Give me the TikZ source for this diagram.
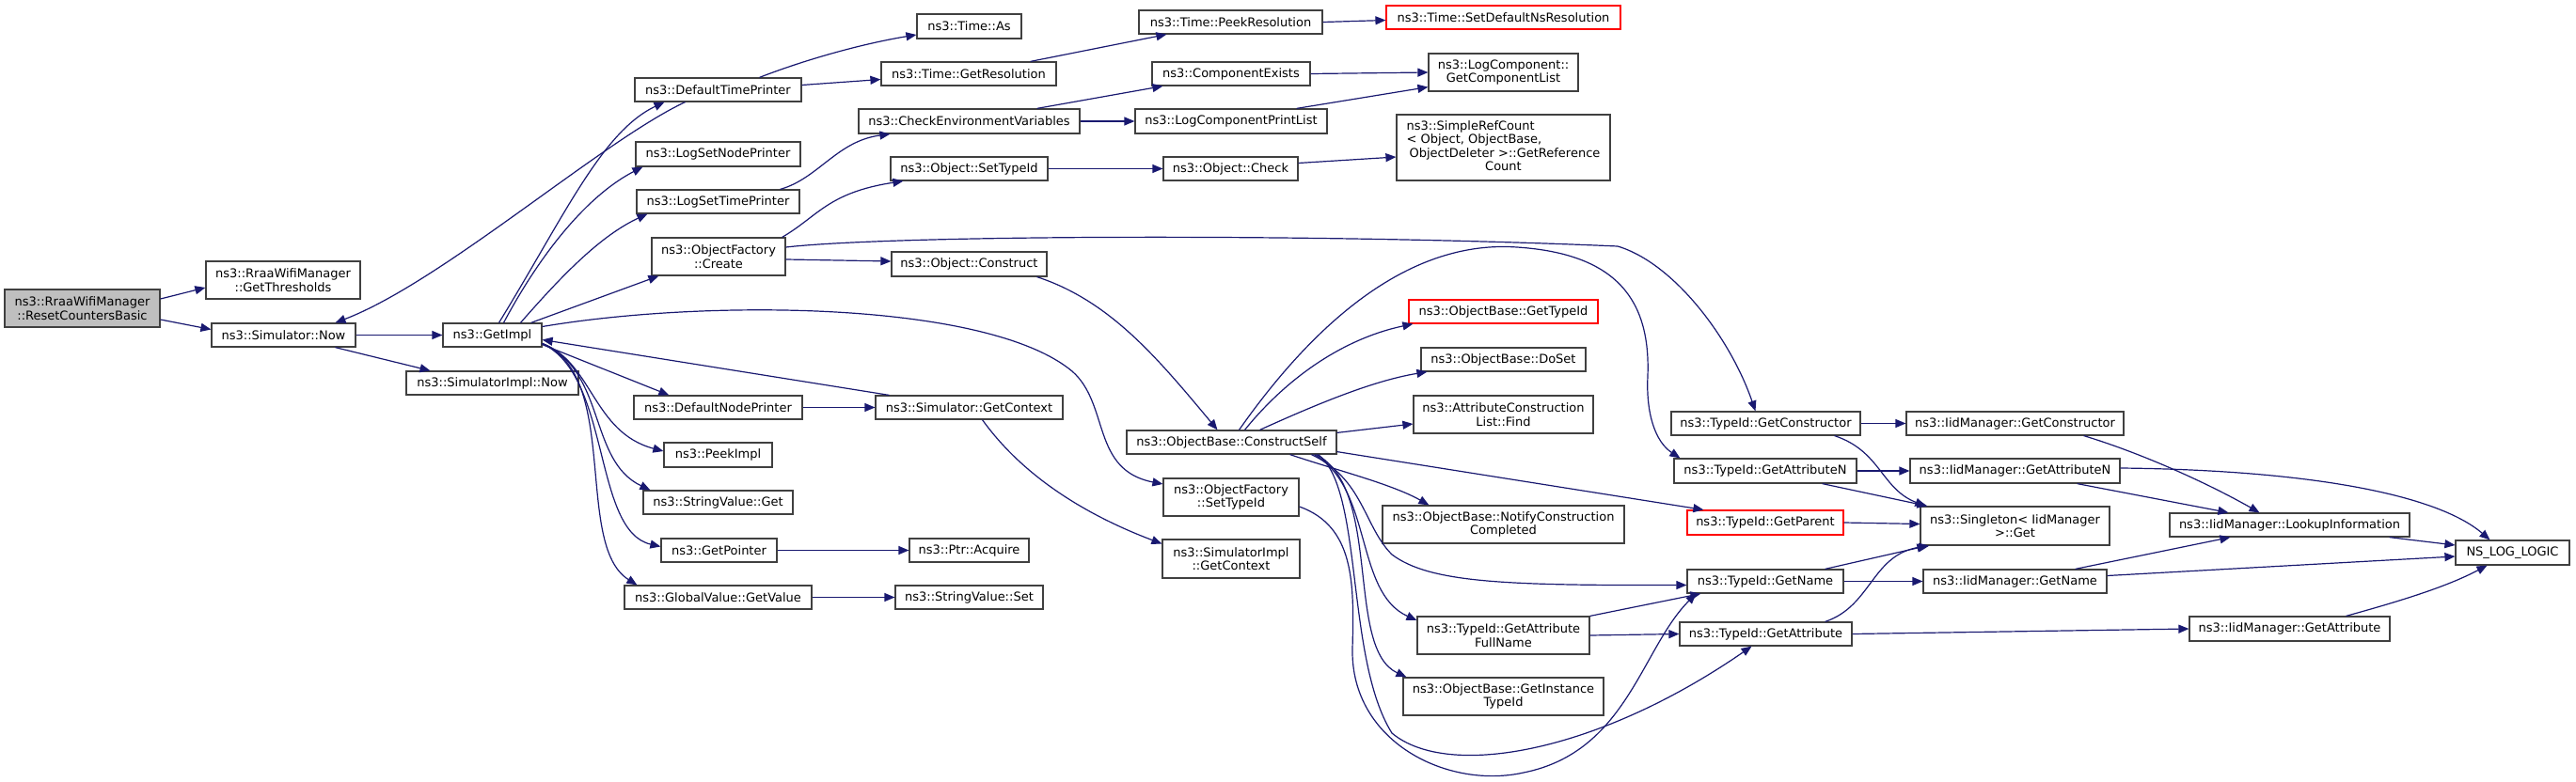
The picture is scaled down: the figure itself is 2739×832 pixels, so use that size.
\documentclass[tikz,border=0pt]{standalone}
\usepackage{fontspec}
\setmainfont{DejaVu Sans}
\usetikzlibrary{arrows.meta,calc}
\definecolor{edgeblue}{HTML}{191970}
\definecolor{boxline}{HTML}{404040}
\definecolor{rootfill}{HTML}{BFBFBF}
\tikzset{
  fnbox/.style={draw=boxline, line width=1.2pt, fill=white, inner sep=0pt, align=center,
    font=\fontsize{13}{14.5}\selectfont, text=black},
  rootbox/.style={fill=rootfill},
  redbox/.style={draw=red},
  calls/.style={draw=edgeblue, line width=1.2pt, -{Triangle[length=11pt,width=9pt]}},
}
\newcommand\fnode[7][]{\node[fnbox,#1,minimum width={#5pt-#3pt},minimum height={#6pt-#4pt}] (#2) at ({(#3+#5)/2},{(#4+#6)/2}) {#7};}
\begin{document}
\begin{tikzpicture}[x=1pt,y=-1pt]
\useasboundingbox (0,0) rectangle (2739,832);
% nodes
\fnode[rootbox]{root}{5}{308}{170}{348}{ns3::RraaWifiManager\\::ResetCountersBasic}
\fnode{thr}{219}{278}{383}{318}{ns3::RraaWifiManager\\::GetThresholds}
\fnode{snow}{225}{344}{378}{369}{ns3::Simulator::Now}
\fnode{impl}{471}{344}{576}{369}{ns3::GetImpl}
\fnode{sinow}{432}{395}{615}{420}{ns3::SimulatorImpl::Now}
\fnode{dtp}{675}{83}{852}{108}{ns3::DefaultTimePrinter}
\fnode{lsnp}{676}{151}{851}{177}{ns3::LogSetNodePrinter}
\fnode{lstp}{677}{202}{850}{227}{ns3::LogSetTimePrinter}
\fnode{ofc}{693}{253}{835}{293}{ns3::ObjectFactory\\::Create}
\fnode{dnp}{674}{421}{853}{446}{ns3::DefaultNodePrinter}
\fnode{peek}{706}{471}{821}{497}{ns3::PeekImpl}
\fnode{svg}{684}{522}{843}{547}{ns3::StringValue::Get}
\fnode{gptr}{703}{573}{826}{598}{ns3::GetPointer}
\fnode{gvgv}{664}{623}{863}{648}{ns3::GlobalValue::GetValue}
\fnode{tas}{975}{15}{1086}{41}{ns3::Time::As}
\fnode{tgr}{937}{66}{1123}{91}{ns3::Time::GetResolution}
\fnode{cev}{913}{116}{1148}{142}{ns3::CheckEnvironmentVariables}
\fnode{ost}{947}{167}{1114}{192}{ns3::Object::SetTypeId}
\fnode{oc}{948}{268}{1113}{294}{ns3::Object::Construct}
\fnode{sgc}{931}{421}{1130}{446}{ns3::Simulator::GetContext}
\fnode{pacq}{967}{573}{1094}{598}{ns3::Ptr::Acquire}
\fnode{svs}{952}{623}{1109}{648}{ns3::StringValue::Set}
\fnode{tpr}{1211}{11}{1406}{36}{ns3::Time::PeekResolution}
\fnode{ce}{1225}{66}{1393}{91}{ns3::ComponentExists}
\fnode{lcpl}{1207}{116}{1411}{142}{ns3::LogComponentPrintList}
\fnode{och}{1237}{167}{1380}{192}{ns3::Object::Check}
\fnode{cs}{1198}{458}{1421}{483}{ns3::ObjectBase::ConstructSelf}
\fnode{ofst}{1237}{509}{1381}{549}{ns3::ObjectFactory\\::SetTypeId}
\fnode{sigc}{1236}{574}{1382}{615}{ns3::SimulatorImpl\\::GetContext}
\fnode[redbox]{tsdn}{1474}{6}{1723}{31}{ns3::Time::SetDefaultNsResolution}
\fnode{lcgcl}{1519}{57}{1678}{97}{ns3::LogComponent::\\GetComponentList}
\fnode{src}{1485}{122}{1712}{192}{\begin{tabular}{@{}l@{}}ns3::SimpleRefCount\\< Object, ObjectBase,\\\hspace{3pt}ObjectDeleter >::GetReference\\\multicolumn{1}{@{}c@{}}{Count}\end{tabular}}
\fnode[redbox]{obgt}{1498}{319}{1699}{344}{ns3::ObjectBase::GetTypeId}
\fnode{obds}{1511}{370}{1686}{395}{ns3::ObjectBase::DoSet}
\fnode{acl}{1503}{421}{1694}{461}{ns3::AttributeConstruction\\List::Find}
\fnode{ncc}{1470}{538}{1727}{578}{ns3::ObjectBase::NotifyConstruction\\Completed}
\fnode{gafn}{1507}{656}{1690}{696}{ns3::TypeId::GetAttribute\\FullName}
\fnode{gitid}{1492}{721}{1705}{761}{ns3::ObjectBase::GetInstance\\TypeId}
\fnode{tgc}{1777}{438}{1978}{463}{ns3::TypeId::GetConstructor}
\fnode{tgan}{1780}{488}{1974}{514}{ns3::TypeId::GetAttributeN}
\fnode[redbox]{tgp}{1794}{543}{1960}{569}{ns3::TypeId::GetParent}
\fnode{tgn}{1794}{606}{1960}{631}{ns3::TypeId::GetName}
\fnode{tga}{1786}{662}{1969}{687}{ns3::TypeId::GetAttribute}
\fnode{igc}{2027}{438}{2258}{463}{ns3::IidManager::GetConstructor}
\fnode{igan}{2031}{488}{2254}{514}{ns3::IidManager::GetAttributeN}
\fnode{sing}{2042}{539}{2243}{580}{ns3::Singleton< IidManager\\ >::Get}
\fnode{ign}{2045}{606}{2240}{631}{ns3::IidManager::GetName}
\fnode{ili}{2307}{546}{2562}{571}{ns3::IidManager::LookupInformation}
\fnode{iga}{2328}{656}{2541}{682}{ns3::IidManager::GetAttribute}
\fnode{nll}{2611}{575}{2732}{601}{NS\_LOG\_LOGIC}
% edges
\draw[calls] ($(root.east)+(0,-10)$) -- ($(thr.west)+(0,8)$);
\draw[calls] ($(root.east)+(0,12)$) -- ($(snow.west)+(0,-6)$);
\draw[calls] (snow.east) -- (impl.west);
\draw[calls] ($(snow.south)+(55,0)$) -- ($(sinow.north)+(-66,0)$);
\draw[calls] ($(dtp.south)+(-35,0)$) .. controls (640,150) and (470,300) .. ($(snow.north)+(55,0)$);
\draw[calls] ($(impl.north)+(7,0)$) .. controls (600,230) and (640,140) .. ($(dtp.south)+(-57,0)$);
\draw[calls] ($(impl.north)+(12,0)$) .. controls (580,260) and (630,205) .. ($(lsnp.south west)+(8,0)$);
\draw[calls] ($(impl.north)+(30,0)$) .. controls (600,290) and (640,250) .. ($(lstp.south west)+(12,0)$);
\draw[calls] ($(impl.north east)+(-12,0)$) -- ($(ofc.south west)+(8,0)$);
\draw[calls] ($(impl.east)+(0,-9)$) .. controls (750,318) and (1050,320) .. (1140,395) .. controls (1180,430) and (1160,500) .. ($(ofst.west)+(0,-14)$);
\draw[calls] ($(sgc.north west)+(15,0)$) -- ($(impl.east)+(0,5)$);
\draw[calls] ($(impl.south east)+(0,-3)$) -- ($(dnp.north west)+(38,0)$);
\draw[calls] (dnp.east) -- (sgc.west);
\draw[calls] ($(impl.east)+(0,9)$) .. controls (630,385) and (630,460) .. ($(peek.west)+(0,-4)$);
\draw[calls] ($(impl.east)+(0,9)$) .. controls (645,395) and (625,490) .. ($(svg.north west)+(8,0)$);
\draw[calls] ($(impl.east)+(0,9)$) .. controls (650,400) and (630,565) .. ($(gptr.west)+(0,-4)$);
\draw[calls] ($(impl.east)+(0,9)$) .. controls (660,400) and (610,580) .. ($(gvgv.north west)+(14,0)$);
\draw[calls] (gptr.east) -- (pacq.west);
\draw[calls] (gvgv.east) -- (svs.west);
\draw[calls] ($(sgc.south)+(14,0)$) .. controls (1090,510) and (1160,550) .. ($(sigc.west)+(0,-16)$);
\draw[calls] ($(dtp.north)+(44,0)$) .. controls (860,62) and (920,46) .. ($(tas.west)+(0,9)$);
\draw[calls] ($(dtp.east)+(0,-5)$) -- ($(tgr.west)+(0,6)$);
\draw[calls] ($(tgr.north east)+(-28,0)$) -- ($(tpr.south west)+(30,0)$);
\draw[calls] (tpr.east) -- ($(tsdn.west)+(0,3)$);
\draw[calls] ($(lstp.north east)+(-21,0)$) .. controls (870,190) and (890,150) .. ($(cev.south west)+(34,0)$);
\draw[calls] ($(cev.north east)+(-46,0)$) -- ($(ce.south west)+(12,0)$);
\draw[calls] (cev.east) -- (lcpl.west);
\draw[calls] (ce.east) -- (lcgcl.west);
\draw[calls] ($(lcpl.north east)+(-33,0)$) -- ($(lcgcl.south west)+(0,-5)$);
\draw[calls] ($(ofc.north east)+(-4,0)$) .. controls (870,230) and (880,205) .. ($(ost.south west)+(14,0)$);
\draw[calls] ($(ofc.east)+(0,3)$) -- ($(oc.west)+(0,-3)$);
\draw[calls] ($(ofc.east)+(0,-10)$) .. controls (950,250) and (1400,248) .. (1720,262) .. controls (1780,280) and (1840,360) .. ($(tgc.north)+(-11,0)$);
\draw[calls] (ost.east) -- (och.west);
\draw[calls] ($(och.east)+(0,-6)$) -- ($(src.west)+(0,10)$);
\draw[calls] ($(oc.south east)+(-11,0)$) .. controls (1180,320) and (1230,380) .. ($(cs.north)+(-15,0)$);
\draw[calls] ($(cs.north)+(8,0)$) .. controls (1400,340) and (1500,255) .. (1613,263) .. controls (1720,270) and (1755,320) .. (1752,400) .. controls (1750,440) and (1760,470) .. ($(tgan.north west)+(7,0)$);
\draw[calls] ($(cs.north)+(14,0)$) .. controls (1370,400) and (1430,360) .. ($(obgt.south west)+(5,0)$);
\draw[calls] ($(cs.north)+(30,0)$) .. controls (1400,430) and (1460,405) .. ($(obds.south west)+(7,0)$);
\draw[calls] ($(cs.north east)+(0,3)$) -- ($(acl.west)+(0,10)$);
\draw[calls] ($(cs.south east)+(-50,0)$) .. controls (1420,500) and (1480,515) .. ($(ncc.north west)+(50,0)$);
\draw[calls] ($(cs.south east)+(0,-3)$) -- ($(tgp.north west)+(18,0)$);
\draw[calls] ($(cs.south)+(85,0)$) .. controls (1450,510) and (1450,560) .. (1480,590) .. controls (1520,620) and (1600,623) .. ($(tgn.west)+(0,4)$);
\draw[calls] ($(cs.south)+(88,0)$) .. controls (1460,520) and (1440,630) .. ($(gafn.west)+(0,-16)$);
\draw[calls] ($(cs.south)+(90,0)$) .. controls (1470,520) and (1430,690) .. ($(gitid.north west)+(4,0)$);
\draw[calls] ($(cs.south)+(92,0)$) .. controls (1450,520) and (1430,700) .. (1480,780) .. controls (1540,830) and (1700,800) .. ($(tga.south)+(-15,0)$);
\draw[calls] ($(ofst.east)+(0,10)$) .. controls (1440,560) and (1440,620) .. (1438,690) .. controls (1436,790) and (1540,840) .. (1620,822) .. controls (1730,800) and (1745,690) .. ($(tgn.south west)+(10,0)$);
\draw[calls] (gafn.north east) -- ($(tgn.south west)+(15,0)$);
\draw[calls] (gafn.east) -- (tga.west);
\draw[calls] (tgc.east) -- (igc.west);
\draw[calls] ($(tgc.south east)+(-28,0)$) .. controls (2000,480) and (2000,520) .. ($(sing.north west)+(6,0)$);
\draw[calls] (tgan.east) -- (igan.west);
\draw[calls] ($(tgan.south east)+(-37,0)$) -- ($(sing.north west)+(8,0)$);
\draw[calls] (tgp.east) -- ($(sing.west)+(0,-2)$);
\draw[calls] ($(tgn.north east)+(-20,0)$) -- ($(sing.south west)+(8,0)$);
\draw[calls] (tgn.east) -- (ign.west);
\draw[calls] ($(tga.north east)+(-29,0)$) .. controls (1990,645) and (1990,590) .. ($(sing.south west)+(10,0)$);
\draw[calls] (tga.east) -- (iga.west);
\draw[calls] ($(igc.south east)+(-43,0)$) .. controls (2270,480) and (2340,510) .. ($(ili.north)+(-32,0)$);
\draw[calls] ($(igan.south east)+(-46,0)$) -- ($(ili.north west)+(63,0)$);
\draw[calls] ($(igan.east)+(0,-3)$) .. controls (2450,500) and (2590,525) .. ($(nll.north)+(-24,0)$);
\draw[calls] ($(ign.north east)+(-34,0)$) -- ($(ili.south west)+(65,0)$);
\draw[calls] ($(ign.east)+(0,-6)$) -- ($(nll.west)+(0,4)$);
\draw[calls] ($(ili.south east)+(-22,0)$) -- ($(nll.west)+(0,-8)$);
\draw[calls] ($(iga.north east)+(-47,0)$) .. controls (2550,640) and (2600,625) .. ($(nll.south)+(-27,0)$);
\end{tikzpicture}
\end{document}
